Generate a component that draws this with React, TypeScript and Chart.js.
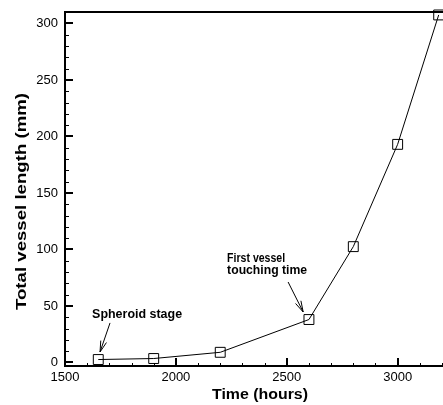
import React, { useEffect, useRef } from 'react';
import { Chart, registerables } from 'chart.js';

Chart.register(...registerables);

// ---- data ----
const times = [1650, 1900, 2200, 2600, 2800, 3000, 3185];
const lengths = [2.6, 3.5, 9, 38, 102.5, 193, 307.5];
const xTickValues = [1500, 2000, 2500, 3000];
const yTickValues = [0, 50, 100, 150, 200, 250, 300];
const xTitle = 'Time (hours)';
const yTitle = 'Total vessel length (mm)';
const noteSpheroid = 'Spheroid stage';
const noteVesselLines = ['First vessel', 'touching time'];

// axis ranges
const X_MIN = 1500, X_MAX = 3200, X_MINOR = 100;
const Y_MIN = -4, Y_MAX = 311, Y_MINOR = 10;

// annotation anchors in data units
const spheroidText = { x: 1825, y: 39.4 };
const spheroidArrow = { x1: 1703, y1: 35, x2: 1658, y2: 9.3 };
const vesselText = { x: 2231, y1: 88.9, y2: 78.3 };
const vesselArrow = { x1: 2506, y1: 71.2, x2: 2574, y2: 44.7 };

const FONT = '"Liberation Sans", Arial, Helvetica, sans-serif';
const PLOT_RIGHT_GAP = 1;

function stretchedText(ctx: CanvasRenderingContext2D, text: string, x: number, y: number, font: string, width: number, align: 'left' | 'center', baseline: CanvasTextBaseline, rotate = 0) {
  ctx.save();
  ctx.font = font;
  ctx.textBaseline = baseline;
  ctx.textAlign = align;
  const w = ctx.measureText(text).width;
  ctx.translate(x, y);
  if (rotate) ctx.rotate(rotate);
  ctx.scale(width / w, 1);
  ctx.fillStyle = '#000';
  ctx.fillText(text, 0, 0);
  ctx.restore();
}

function arrow(ctx: CanvasRenderingContext2D, x1: number, y1: number, x2: number, y2: number) {
  const ang = Math.atan2(y2 - y1, x2 - x1);
  const hl = 11, hw = 3;
  ctx.save();
  ctx.strokeStyle = '#000';
  ctx.lineWidth = 1;
  ctx.beginPath();
  ctx.moveTo(x1, y1);
  ctx.lineTo(x2, y2);
  const bx = x2 - Math.cos(ang) * hl, by = y2 - Math.sin(ang) * hl;
  const px = -Math.sin(ang) * hw, py = Math.cos(ang) * hw;
  ctx.moveTo(bx + px, by + py);
  ctx.lineTo(x2, y2);
  ctx.lineTo(bx - px, by - py);
  ctx.stroke();
  ctx.restore();
}

const framePlugin = {
  id: 'frameAndNotes',
  afterLayout(chart: any) {
    // stretch the plot area to the right edge of the canvas
    const right = chart.width - PLOT_RIGHT_GAP;
    const xs = chart.scales.x;
    chart.chartArea.right = right;
    chart.chartArea.width = right - chart.chartArea.left;
    xs.right = right;
    xs.width = right - xs.left;
    xs.configure();
  },
  afterDraw(chart: any) {
    const { ctx, chartArea: a, scales } = chart;
    const xs = scales.x, ys = scales.y;
    ctx.save();
    ctx.strokeStyle = '#000';
    ctx.lineWidth = 2;
    ctx.beginPath();
    ctx.moveTo(a.left, a.top + 1);
    ctx.lineTo(a.right + 2, a.top + 1);
    ctx.moveTo(a.left, a.top);
    ctx.lineTo(a.left, a.bottom);
    ctx.moveTo(a.left - 1, a.bottom - 1);
    ctx.lineTo(a.right + 2, a.bottom - 1);
    ctx.stroke();

    ctx.lineWidth = 1;
    ctx.beginPath();
    for (let v = 0; v <= 310; v += Y_MINOR) {
      const y = Math.round(ys.getPixelForValue(v)) + 0.5;
      const len = yTickValues.includes(v) ? 8 : 4;
      ctx.moveTo(a.left, y);
      ctx.lineTo(a.left + len, y);
    }
    for (let v = X_MIN; v <= X_MAX; v += X_MINOR) {
      const x = Math.round(xs.getPixelForValue(v)) + 0.5;
      const len = xTickValues.includes(v) ? 8 : 4;
      ctx.moveTo(x, a.bottom);
      ctx.lineTo(x, a.bottom - len);
    }
    ctx.stroke();
    ctx.lineWidth = 2;
    ctx.beginPath();
    yTickValues.forEach((v) => {
      const y = Math.round(ys.getPixelForValue(v));
      ctx.moveTo(a.left, y);
      ctx.lineTo(a.left + 8, y);
    });
    xTickValues.forEach((v) => {
      const x = Math.round(xs.getPixelForValue(v));
      ctx.moveTo(x, a.bottom);
      ctx.lineTo(x, a.bottom - 9);
    });
    ctx.stroke();
    ctx.restore();

    stretchedText(ctx, xTitle, 260, 395, `bold 14px ${FONT}`, 96, 'center', 'middle');
    stretchedText(ctx, yTitle, 22, 201.5, `bold 14px ${FONT}`, 217, 'center', 'middle', -Math.PI / 2);

    stretchedText(ctx, noteSpheroid, xs.getPixelForValue(spheroidText.x), ys.getPixelForValue(spheroidText.y), `bold 12px ${FONT}`, 90, 'center', 'alphabetic');
    arrow(ctx, xs.getPixelForValue(spheroidArrow.x1), ys.getPixelForValue(spheroidArrow.y1), xs.getPixelForValue(spheroidArrow.x2), ys.getPixelForValue(spheroidArrow.y2));
    stretchedText(ctx, noteVesselLines[0], xs.getPixelForValue(vesselText.x), ys.getPixelForValue(vesselText.y1), `bold 12px ${FONT}`, 58, 'left', 'alphabetic');
    stretchedText(ctx, noteVesselLines[1], xs.getPixelForValue(vesselText.x), ys.getPixelForValue(vesselText.y2), `bold 12px ${FONT}`, 80, 'left', 'alphabetic');
    arrow(ctx, xs.getPixelForValue(vesselArrow.x1), ys.getPixelForValue(vesselArrow.y1), xs.getPixelForValue(vesselArrow.x2), ys.getPixelForValue(vesselArrow.y2));
  },
};

function zeroPad(s: any) {
  s.paddingLeft = 0;
  s.paddingRight = 0;
  s.paddingTop = 0;
  s.paddingBottom = 0;
}

export default function App() {
  const ref = useRef<HTMLCanvasElement>(null);
  useEffect(() => {
    if (!ref.current) return;
    const chart = new Chart(ref.current, {
      type: 'line',
      data: {
        datasets: [
          {
            data: times.map((t, i) => ({ x: t, y: lengths[i] })),
            borderColor: '#000',
            borderWidth: 1,
            backgroundColor: 'rgba(0,0,0,0)',
            pointStyle: 'rect',
            pointRadius: 7,
            pointBorderWidth: 1,
            pointBorderColor: '#000',
            pointBackgroundColor: 'rgba(0,0,0,0)',
            tension: 0,
            clip: false as any,
          },
        ],
      },
      options: {
        animation: false,
        responsive: false,
        devicePixelRatio: 1,
        layout: { padding: { top: 11, right: 1, left: 0, bottom: 0 } },
        plugins: { legend: { display: false }, tooltip: { enabled: false } },
        scales: {
          x: {
            type: 'linear',
            min: X_MIN,
            max: X_MAX,
            grid: { display: false, drawTicks: false },
            border: { display: false },
            afterBuildTicks: (s: any) => {
              s.ticks = xTickValues.map((value) => ({ value }));
            },
            afterFit: (s: any) => {
              s.height = 38;
              zeroPad(s);
            },
            ticks: { color: '#000', font: { family: FONT, size: 13 }, padding: 3, maxRotation: 0, autoSkip: false, callback: (v: any) => String(v) },
          },
          y: {
            type: 'linear',
            min: Y_MIN,
            max: Y_MAX,
            grid: { display: false, drawTicks: false },
            border: { display: false },
            afterBuildTicks: (s: any) => {
              s.ticks = yTickValues.map((value) => ({ value }));
            },
            afterFit: (s: any) => {
              s.width = 65;
              zeroPad(s);
            },
            ticks: { color: '#000', font: { family: FONT, size: 13 }, padding: 7, autoSkip: false, callback: (v: any) => String(v) },
          },
        },
      },
      plugins: [framePlugin],
    });
    return () => chart.destroy();
  }, []);
  return (
    <div style={{ position: 'fixed', left: 0, top: 0, width: 443, height: 405, background: '#fff' }}>
      <canvas ref={ref} width={443} height={405} style={{ display: 'block' }} />
    </div>
  );
}
